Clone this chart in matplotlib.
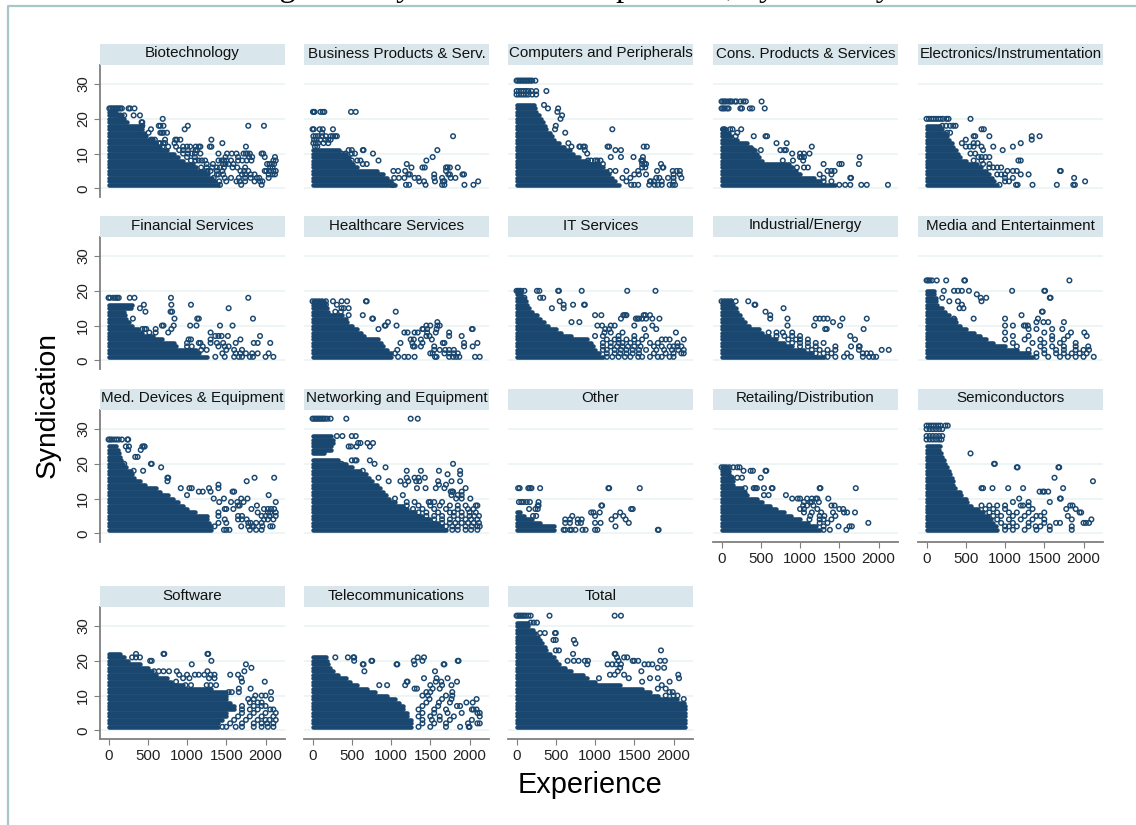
import matplotlib
matplotlib.use("Agg")
import matplotlib.pyplot as plt
from matplotlib.lines import Line2D
from matplotlib.patches import Rectangle

plt.rcParams['font.family'] = ['Liberation Sans', 'DejaVu Sans']

NAVY = '#1a476f'
STRIP = '#d9e6eb'
GRID = '#eaf2f3'
AXIS = '#7f7f7f'
FRAME = '#a9c6c6'

y_ticks = [0, 10, 20, 30]
x_ticks = [0, 500, 1000, 1500, 2000]

# Each *_extent lists, for syndication 1, 2, 3..., how far (experience) the solid mass of
# overlapping markers reaches. Each *_rows gives individually legible markers: {syndication: [experience]}
biotech_extent = [1400,1360,1320,1270,1230,1120,1070,950,880,830,740,650,610,560,480,450,430,420,230,200,170,100,0]
biotech_rows = {23:[10,30,50,70,90,110,130,150,170,255,275,330], 21:[150,200,320,400], 20:[690], 19:[420,430],
 18:[430,640,660,700,1010,1780,1980], 17:[540,970], 16:[510,660,680,700,745],
 14:[540,560,590,720,850,870,915,1310], 13:[640,660,700,720,840,1450],
 12:[690,760,860,950,1000,1040,1110,1150,1170,1290,1310,1750], 11:[900,950,1010,1110,1130],
 10:[950,1010,1060,1100,1170,1400,1510,1570,1630,1720,1750,1770,1800,1950,1970],
 9:[1000,1100,1490,1650,1790,1830,1990,2120], 8:[1050,1110,1150,1190,1230,1400,1440,1470,1500,1560,1650,1705,1760,1820,2100,2130],
 7:[1250,1330,1460,1490,1530,1590,2020,2050,2080,2110], 6:[1180,1250,1320,1380,1420,1470,1580,1640,1740,2060,2090],
 5:[1260,1300,1380,1450,1680,1730,1780,1990,2010,2050,2100,2130], 4:[1380,1400,1460,1700,1740,1810,1860,2040,2090,2120],
 3:[1340,1480,1560,1660,1740,1810,1890,1920,2040], 2:[1410,1500,1630,1670,1740,1860,1930,1960], 1:[1420,1690,1950]}

business_extent = [1050,1000,950,900,820,560,520,480,460,430,340]
business_rows = {22:[5,15,25,100,130,150,490,550], 17:[0,15,90,130,260], 16:[120], 15:[10,40,70,120,170,230,260,290,310,1790],
 14:[20,50,100,160,200,230], 13:[10,40,70,140,200], 12:[30,60], 11:[460,500,640,650,1590], 10:[370,420,500,540,770], 9:[1530],
 8:[450,500,570,610,840,1450], 7:[640,690,1200], 6:[1260,1400,1430,1700,1720,1750,1850], 5:[1030,1090,1180,1700],
 4:[1220,1240,1550,1730,1750,1910,1930], 3:[1040,1100,1170,1300,1350,1550,1650,1760,1820],
 2:[1360,1420,1560,1660,1680,2110], 1:[1020,1190,1230,1440,1650,1680,1935,2050]}

computers_extent = [1300,1250,1220,1180,1150,1100,1050,900,800,720,680,600,540,480,450,420,380,360,340,310,280,250,240,220]
computers_rows = {31:[0,20,40,60,80,100,120,140,160,180,200,240], 28:[0,30,60,90,120,150,190,250,380], 27:[0,30,60,90,120,150,200,250],
 24:[350], 23:[400,530], 22:[520], 21:[580], 20:[560], 18:[500], 17:[490,1220], 16:[620], 13:[660],
 12:[700,800,810,850,870,1160,1180,1620,1660], 11:[870,1260,1330], 10:[900], 9:[1200,1330,1490,1610],
 8:[910,950,1000,1030,1070,1590,1600,1610], 7:[1100,1600,1630,1650,1840], 6:[1600,1640,1860,1870],
 5:[1190,1260,1400,1550,1790,1990,2040,2080], 4:[1500,1560,1650,2000,2080], 3:[1350,1450,1780,1820,1930,2000,2100],
 2:[1400,1700,1710,1750,1850,2000], 1:[1460,1500,1550,1690,1760,1800,1850,1950,1990,2020]}

consumer_extent = [1450,1250,1180,1000,950,900,860,520,480,450,420,380,320,200,120,100,60]
consumer_rows = {25:[0,20,40,60,90,110,130,170,190,240,280,310,510], 23:[0,20,40,70,90,240,260,360,390,550],
 17:[20,40,110,140,250], 16:[200], 15:[180,410,560,580], 13:[700,830], 12:[1150], 11:[400,500,750,800,820],
 10:[900,1000,1050,1120], 9:[1000,1020,1050,1760], 8:[780,910,1040], 7:[1300,1500,1530,1750], 6:[960,1050,1100],
 5:[1350,1400,1440], 4:[1400,1250], 3:[1300,1640,1650], 2:[1300,1400], 1:[1500,1575,1640,1780,1850,2120]}

electronics_extent = [900,860,840,800,760,700,640,500,420,400,370,340,320,280,260,230,200,170]
electronics_rows = {20:[0,30,60,90,120,150,180,210,255,280,560], 18:[200,250,300,340,370], 17:[700,730], 16:[260,300],
 15:[600,620,800,1340,1440], 14:[1340,500], 13:[450,600,650,1200], 12:[500,550,600,700,850,1100], 11:[970,720],
 10:[560,620], 9:[660,700,750,800], 8:[600,700,1170,1200], 7:[720,800], 6:[800,850,900,950], 5:[1030,1100,1150,1700,1710],
 4:[900,950,1000,1200,1300], 3:[1000,1100,1880], 2:[1000,1050,2020], 1:[930,1140,1160,1350,1660,1870,1890]}

financial_extent = [1250,1150,1120,860,840,680,560,430,380,300,260,220,210,200,280,300]
financial_rows = {18:[0,20,60,90,110,130,270,330,795,1780], 16:[450,800,1050], 15:[400,1530], 14:[470,790,810], 12:[310,840,1130,1150,1840],
 10:[680,700,830,1040,1120,1420,1580], 9:[430,460,480,600,800], 8:[520,600,760,1300], 7:[1360,1400,1440,1520,1930],
 6:[1020,1050,1300,1680], 5:[1000,1150,1170,1300,1380,1460,1620,1850,1900,2060], 4:[1000,1060,1200,1400,1480,1530],
 3:[1180,1250,1500,1600,1700], 2:[1450,1620,1680,1750,1830,1900,2040], 1:[1360,1480,1600,1660,1700,1800,1840,2000,2100]}

healthcare_extent = [1000,1000,950,900,870,830,650,620,560,500,440,420,380,200,180,160,140]
healthcare_rows = {17:[0,40,80,120,170,260,370,440,680,690], 16:[170,310], 15:[370,400,460], 14:[290,360,1060], 13:[460,640],
 12:[760,770], 11:[960,1590], 10:[920,930,1070,1450,1500,1590,1620], 9:[840,1400,1410,1460,1580,2030,2040],
 8:[1170,1210,1300,1340,1460,1570,1740], 7:[1450,1490,1740,1900], 6:[1250,1290,1380,1520], 5:[1120,1270,1400,1660,1680,1930,2100],
 4:[1280,1300,1380,1550,1930,2040], 3:[1080,1550,1620,1690,1740,1800], 2:[1050,1500,1530,1680,1740,1800,1850],
 1:[1090,1170,1220,1300,1560,1580,1740,1790,1830,1870,2070,2130]}

it_extent = [1100,1050,1000,980,950,900,700,560,500,400,350,300,260,200,160,130,120,90,60,30]
it_rows = {20:[0,20,40,60,100,260,290,530,540,830,1410,1770], 18:[100,300,340], 17:[550], 16:[600,720,860,870], 15:[450,600],
 13:[1000,1080,1360,1380,1400,1620,1640,1700], 12:[1330,1520,1540,1560,1600,1650,1730,1820], 11:[700,800], 10:[1030,1090,1200,1250,1500,1730],
 9:[1130,1180,1630,1780], 8:[1120,1200,1350,2030], 7:[1000,1100,1300,1500,1650], 6:[1150,1250,1300,1400,1500,1600,1850,1900,1950,2130],
 5:[1100,1200,1300,1350,1450,1550,1700,1800,2050], 4:[1100,1200,1280,1350,1420,1500,1580,1750,1850,1950,2000,2050,2100],
 3:[1100,1150,1250,1330,1400,1480,1560,1650,1780,1880,1980,2060,2130], 2:[1150,1250,1320,1400,1480,1560,1750,1900,2000,2100,2130],
 1:[1150,1220,1300,1380,1450,1550,1600,1700,1800,1850,1950,2000]}

industrial_extent = [1300,1150,1050,900,800,700,600,520,480,350,300,260,240,200,180,150,120]
industrial_rows = {17:[0,40,80,120,180,340], 16:[420,430], 15:[790], 14:[560], 13:[620], 12:[620,840,1200,1250,1300,1350,1540,1850],
 11:[1420], 10:[840,1180,1510], 9:[1320,1340,1810], 8:[600,700,780,900], 7:[700,800,900,1000,1640], 6:[850,950,1000,1100,1700],
 5:[900,1000,1100,1200,1300], 4:[1000,1100,1200,1450,1650,1750,1760], 3:[1150,1250,1350,1450,1750,2040,2130],
 2:[1200,1300,1400,1600,1800,1850,1900], 1:[1350,1450,1560,1650,1800,1880,1930,1970]}

media_extent = [1350,1300,1150,1000,850,760,680,600,500,420,380,360,280,240,200,130,120,120,100,100]
media_rows = {23:[0,20,40,70,130,250,480,490,1820], 20:[220,350,400,450,540,1090,1500,1510], 19:[640], 18:[200,690,760,1570,1580], 17:[700,290,400],
 16:[450], 15:[420,470], 14:[1470,1480], 13:[1210], 12:[350,600,1000,1420], 11:[1400,1490,1550,1750], 10:[1000,1100,1240,1260,1290],
 9:[1600,1730,1300,1400], 8:[1000,1500,1840,2010], 7:[1100,1300,1600,1800,2040], 6:[1000,1250,1450,1600,1750], 5:[1100,1350,1500,1700,1900],
 4:[1150,1450,1600,1750,1900,2060], 3:[1300,1500,1650,1750,1900,2000,2070], 2:[1400,1500,1650,1750,1850,1950,2040], 1:[1400,1550,1700,1800,1900,2000,2130]}

meddev_extent = [1300,1300,1280,1250,1250,1100,1000,950,880,820,760,660,600,460,400,330,300,280,220,190,160,150,130,120,100]
meddev_rows = {27:[0,20,40,70,100,130,170,240,250], 25:[220,260,430,450,460], 24:[250,410], 22:[340,370], 20:[200,540,550], 19:[670], 18:[320,440],
 16:[750,760,1860,2110], 15:[750,1760], 14:[1400], 13:[920,1030,1060,1280,1400], 12:[1150,1200,1300,1580,1600], 11:[1000,2040],
 10:[1340,1470,1690,1770], 9:[1410,1560,1640,1720,2130], 8:[1650,1670,1890], 7:[1480,1500,1590,1820,1980,2030,2070,2110],
 6:[1400,1900,2030,2060,2130], 5:[1400,1650,1700,1950,2000,2050,2130], 4:[1480,1650,1700,1760,1980,2030,2100],
 3:[1400,1500,1780,1810,1880,1950], 2:[1350,1690,1780,1830,1850,1960,2060,2090], 1:[1470,1500,1540,1800,1880,1950]}

networking_extent = [1700,1650,1600,1500,1400,1300,1200,1150,1050,980,940,900,860,820,760,720,680,600,500,420,320,0,150,230,240,260,260,240]
networking_rows = {33:[0,20,40,60,80,100,120,140,160,190,230,430,1250,1340], 28:[310,380,500,550], 26:[580,610,700,770], 25:[460,490,560,730], 21:[500,540,560,730],
 20:[370,790,1790], 19:[410,930], 18:[640,1200,1380,1610,1880], 17:[1720,1880], 16:[840,1200,1300,1350,1430], 15:[970,1120,1220,1320,1360,1600,1770,1880],
 14:[1180,1610,1700], 13:[1330,1440,1570,1680,1950], 12:[1760,1780,1790,1900], 11:[1150,1770,1850,1900], 10:[1050,1830,1900,2010],
 9:[1200,1300,1480,1500,1550,1650], 8:[1200,1350,1500,1620,1750,1850,1950,2080,2100], 7:[1280,1400,1550,1700,1850,1980,2050],
 6:[1350,1450,1600,1750,1800,1900,2000,2080], 5:[1450,1550,1650,1800,1900,2000,2060,2120], 4:[1550,1650,1750,1850,1950,2020,2100],
 3:[1650,1750,1820,1900,1980,2050,2120], 2:[1700,1780,1850,1950,2030,2100,2130], 1:[1780,1850,1950,2020,2100]}

other_extent = [480,480,300,200,100,50]
other_rows = {13:[20,40,150,170,190,300,1170,1180,1570], 9:[30,60,90,130,170,280], 8:[270,280,1080,1090], 7:[160,240,270,1460,1480], 6:[950,980,1060,1320],
 5:[210,250,710,1000,1260,1360], 4:[620,680,780,830,1210,1390], 3:[620,680,780,820,1000,1070,1430], 2:[1260], 1:[600,620,680,700,750,840,880,1000,1030,1800,1810]}

retail_extent = [1250,1200,1100,1000,880,800,700,620,520,450,330,300,260,150,150,130,100,90,80]
retail_rows = {19:[0,30,60,100,150,200,230], 18:[280,370,400,560,570], 16:[120,130,200,260,500], 13:[300,410,430,450,540,640,650,1250,1260,1710], 11:[540,600,820],
 10:[900,970,1000,1090,1150,1200,1220,1360], 9:[1050,1130,1150,1240], 8:[1040,1090,1170,1400,1440], 7:[1000,1050,1220,1500,1550],
 6:[1050,1150,1270,1420,1560,1600,1700], 5:[1130,1250,1310,1450], 4:[1120,1250,1300,1400], 3:[1250,1350,1870], 2:[1300,1490,1630,1660], 1:[1300,1380,1590]}

semi_extent = [900,880,850,820,780,720,650,560,520,500,440,420,360,340,340,320,300,280,260,240,220,200,180,160,170]
semi_rows = {31:[0,30,60,90,120,150,180,240,270], 30:[0,40,80,120,160,200], 28:[0,40,80,120,160,200], 27:[0,40,80,120,160,190], 23:[560], 20:[860,870],
 19:[1150,1160,1680,1690], 16:[1630], 15:[2120], 13:[700,720,840,1040,1230,1740], 12:[1440,1480,1500,1550], 10:[1180,1700,1710], 9:[1570,1100,1300],
 8:[700,800,900,1000,1200,1230,1300,1830,1860], 7:[750,850,1000,1350,1780,1900], 6:[800,900,1050,1150,1300,1500,1950,1970], 5:[850,950,1100,1250,1400,1450,1800],
 4:[900,1050,1200,1350,1500,1850,2100], 3:[950,1100,1300,1500,1650,1700,2000,2030,2070], 2:[1000,1050,1150,1300,1390,1450,1570,1850], 1:[1000,1100,1250,1400,1570,1850]}

software_extent = [1400,1400,1450,1500,1500,1600,1600,1550,1500,1500,1500,1300,950,800,750,600,550,500,400,250,200,150]
software_rows = {22:[350,700,710,1260,1270], 21:[300,350,400], 20:[530,550,1310], 19:[1060,1750], 18:[1820], 17:[580,640,700,770,870,1260,1730],
 16:[900,1000,1100,1150,1220,1300,1350,1550,1650], 15:[950,1030,1280,1350,1690], 14:[860,1700,1990], 13:[800,980,1050,1250,1300,1370],
 12:[1660,1810], 11:[1530,1570,1660,2070], 10:[1870,1950,2000], 9:[1780,1850,2070], 8:[1800,1900,1950], 7:[1700,1850,1950,2000],
 6:[1700,1800,1900,2060,2100], 5:[1700,1850,2000,2130], 4:[1650,1800,1950,2100], 3:[1600,1750,1900,2000,2050,2130], 2:[1550,1700,1850,1950,2020,2100],
 1:[1450,1500,1620,1700,1850,1950,2030,2100]}

telecom_extent = [1250,1250,1250,1200,1200,1150,1150,1100,1050,950,800,700,560,480,420,320,260,220,200,180,170]
telecom_rows = {21:[290,450,520,530,1340,1420], 20:[530,750,760,1290,1400,1850,1860], 19:[640,650,1070,1080,1300,1670,1680], 17:[660,1560],
 15:[1420,1580,1720], 14:[1200,1210,1570,1640,1840], 13:[850,950,1180,1500,1650,1770], 12:[1300,1330,1530,1620], 11:[1450,1500,1780],
 10:[1400,1470,1700,1780], 9:[1490,1650,1770,2090], 8:[1450,1610,1750,1960,2040], 7:[1400,1600,1840,1880], 6:[1350,1550,1700,2030,2050,2090],
 5:[1400,1550,1720,1900,2100,2130], 4:[1350,1500,1620,1800,2130], 3:[1400,1520,1620,1750,2030], 2:[1400,1550,1700,1980,2100,2130], 1:[1350,1500,1700,1880,1990,2000]}

total_extent = [2150,2150,2150,2150,2150,2150,2150,2130,2050,1800,1700,1600,1320,1000,900,850,700,620,540,500,480,430,380,360,320,300,270,240,210,150,150]
total_rows = {33:[0,20,40,60,80,100,120,150,180,420,1250,1330], 31:[180,220,260], 28:[300,360,490,500], 26:[470,500,730], 25:[750], 23:[500,540,1840],
 22:[720,1250,1260], 21:[1280,1370,1410], 20:[650,730,790,870,910,1300,1480,1500,1550,1830,1890], 19:[900,1160,1220,1270,1330,1630,1680,1730],
 18:[1320,1800,1880], 17:[1290,1590], 16:[1190,1250,1370,2060], 15:[1050,1430,1700,1800,2070], 14:[1600,1950], 13:[1850], 12:[1800,1900],
 11:[1950,1990], 10:[1900,2000,2050], 9:[2130]}

panel_titles = ['Biotechnology', 'Business Products & Serv.', 'Computers and Peripherals', 'Cons. Products & Services',
                'Electronics/Instrumentation', 'Financial Services', 'Healthcare Services', 'IT Services', 'Industrial/Energy',
                'Media and Entertainment', 'Med. Devices & Equipment', 'Networking and Equipment', 'Other', 'Retailing/Distribution',
                'Semiconductors', 'Software', 'Telecommunications', 'Total']
panel_extents = [biotech_extent, business_extent, computers_extent, consumer_extent, electronics_extent, financial_extent,
                 healthcare_extent, it_extent, industrial_extent, media_extent, meddev_extent, networking_extent, other_extent,
                 retail_extent, semi_extent, software_extent, telecom_extent, total_extent]
panel_rows = [biotech_rows, business_rows, computers_rows, consumer_rows, electronics_rows, financial_rows, healthcare_rows,
              it_rows, industrial_rows, media_rows, meddev_rows, networking_rows, other_rows, retail_rows, semi_rows,
              software_rows, telecom_rows, total_rows]
has_x_axis = {13, 14, 15, 16, 17}

W, H = 1136, 825
col_left = [100, 304, 508, 713, 918]
row_top = [65, 237, 410, 607]
PW, PH, SH = 185, 132, 21

fig = plt.figure(figsize=(W / 100, H / 100), dpi=100, facecolor='white')
fig.add_artist(Line2D([8 / W, 8 / W, 1], [0, 1 - 5.5 / H, 1 - 5.5 / H], color=FRAME, lw=1.6))

fig.text(412 / W, 1 + 4 / H, 'Using Industry', family='Liberation Serif', fontsize=23.5, ha='right', va='baseline')
fig.text(892 / W, 1 + 4 / H, 'Member Experience, by Industry', family='Liberation Serif', fontsize=23.5, ha='right', va='baseline')

for i, title in enumerate(panel_titles):
    r, c = divmod(i, 5)
    L, T = col_left[c], row_top[r]
    ax = fig.add_axes([L / W, 1 - (T + PH) / H, PW / W, PH / H])
    ax.set_xlim(-109, 2248)
    ax.set_ylim(-2.5, 35.5)
    ax.patch.set_alpha(0)
    for s in ('top', 'right'):
        ax.spines[s].set_visible(False)
    ax.spines['left'].set_visible(c == 0)
    ax.spines['bottom'].set_visible(i in has_x_axis)
    ax.spines['left'].set_color(AXIS)
    ax.spines['bottom'].set_color(AXIS)
    ax.spines['left'].set_linewidth(1.3)
    ax.spines['bottom'].set_linewidth(1.3)
    ax.set_yticks(y_ticks)
    ax.set_xticks(x_ticks)
    ax.grid(axis='y', color=GRID, lw=1.1, zorder=0)
    ax.set_axisbelow(True)
    ax.tick_params(axis='y', left=(c == 0), labelleft=(c == 0), length=4, width=0.8, color=AXIS, labelsize=10.8, pad=3, labelcolor='#222222')
    ax.tick_params(axis='x', bottom=(i in has_x_axis), labelbottom=(i in has_x_axis), length=4, width=0.8, color=AXIS, labelsize=10.8, pad=3, labelcolor='#222222')
    for t in ax.get_yticklabels():
        t.set_rotation(90)
        t.set_va('center')

    ext = panel_extents[i]
    ys = [k + 1 for k, e in enumerate(ext) if e > 0]
    es = [e for e in ext if e > 0]
    ax.hlines(ys, 0, es, colors=NAVY, lw=3.3, capstyle='round', zorder=3)

    px, py = [], []
    for yv, xs in panel_rows[i].items():
        px.extend(xs)
        py.extend([yv] * len(xs))
    ax.scatter(px, py, s=11, facecolors='none', edgecolors=NAVY, linewidths=1.05, zorder=4, clip_on=False)

    fig.add_artist(Rectangle((L / W, 1 - T / H), PW / W, SH / H, transform=fig.transFigure, facecolor=STRIP, edgecolor='none'))
    fig.text((L + PW / 2) / W, 1 - (T - 7.5) / H, title, fontsize=10.9, color='#111111', ha='center', va='baseline')

fig.text(48 / W, 1 - 405 / H, 'Syndication', fontsize=20.3, rotation=90, ha='center', va='center')
fig.text(590 / W, 1 - 785 / H, 'Experience', fontsize=20.8, ha='center', va='center')

fig.savefig('out.png', dpi=100, facecolor='white')
